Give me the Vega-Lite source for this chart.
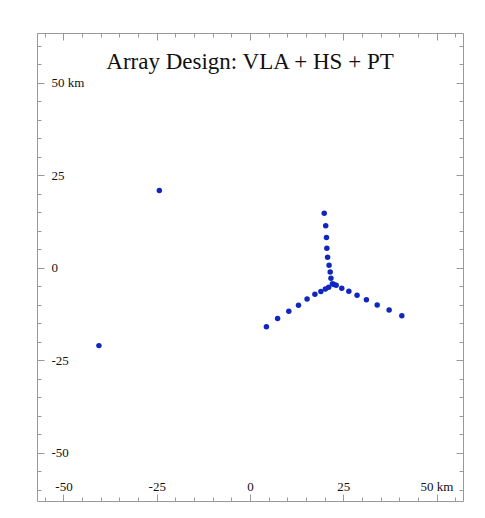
{
  "$schema": "https://vega.github.io/schema/vega-lite/v6.json",
  "width": 426,
  "height": 468,
  "autosize": {"type": "none"},
  "padding": {"left": 37, "top": 33, "right": 22, "bottom": 17},
  "background": "white",
  "title": {"text": "Array Design: VLA + HS + PT", "font": "Liberation Serif", "fontSize": 23, "fontWeight": "normal", "color": "#111111", "anchor": "middle", "frame": "group", "baseline": "alphabetic", "offset": -59},
  "config": {
    "view": {"stroke": null},
    "axis": {"grid": false, "domainColor": "#999999", "tickColor": "#999999", "labelFont": "Liberation Serif", "labelFontSize": 13, "labelColor": "#111111", "title": null, "labelFlush": false, "labelOverlap": false}
  },
  "data": {"values": [
    {"x": 19.9, "y": 14.8}, {"x": 20.3, "y": 11.4}, {"x": 20.5, "y": 8.2}, {"x": 20.6, "y": 5.3}, {"x": 20.8, "y": 2.9}, {"x": 21.2, "y": 0.7}, {"x": 21.5, "y": -1.1}, {"x": 21.7, "y": -2.8}, {"x": 22.1, "y": -4.3},
    {"x": 21.1, "y": -5.2}, {"x": 20.2, "y": -5.7}, {"x": 19.0, "y": -6.4}, {"x": 17.4, "y": -7.1}, {"x": 15.3, "y": -8.4}, {"x": 13.0, "y": -10.1}, {"x": 10.4, "y": -11.7}, {"x": 7.4, "y": -13.7}, {"x": 4.4, "y": -15.9},
    {"x": 22.5, "y": -4.5}, {"x": 23.1, "y": -4.7}, {"x": 24.6, "y": -5.5}, {"x": 26.5, "y": -6.3}, {"x": 28.7, "y": -7.4}, {"x": 31.2, "y": -8.6}, {"x": 34.1, "y": -10.0}, {"x": 37.3, "y": -11.4}, {"x": 40.7, "y": -12.9},
    {"x": -24.3, "y": 20.9}, {"x": -40.5, "y": -21.0}
  ]},
  "layer": [
    {
      "mark": {"type": "point", "filled": true, "shape": "circle", "size": 30, "color": "#1026c0", "opacity": 1},
      "encoding": {
        "x": {"field": "x", "type": "quantitative", "scale": {"domain": [-57.1, 57.1], "nice": false, "zero": false},
              "axis": {"orient": "bottom", "values": [-55, -50, -45, -40, -35, -30, -25, -20, -15, -10, -5, 0, 5, 10, 15, 20, 25, 30, 35, 40, 45, 50, 55], "labels": false, "tickSize": -4, "domain": true}},
        "y": {"field": "y", "type": "quantitative", "scale": {"domain": [-63, 63.5], "nice": false, "zero": false},
              "axis": {"orient": "left", "values": [-60, -55, -50, -45, -40, -35, -30, -25, -20, -15, -10, -5, 0, 5, 10, 15, 20, 25, 30, 35, 40, 45, 50, 55, 60], "labels": false, "tickSize": -4, "domain": true}}
      }
    },
    {
      "mark": {"type": "point", "opacity": 0},
      "encoding": {
        "x": {"field": "x", "type": "quantitative", "scale": {"domain": [-57.1, 57.1], "nice": false, "zero": false},
              "axis": {"orient": "bottom", "values": [-50, -25, 0, 25, 50], "tickSize": -7, "labelPadding": -8, "labelBaseline": "middle", "labelAlign": "center", "domain": false, "labelExpr": "datum.value == 50 ? '50 km' : '' + datum.value"}},
        "y": {"field": "y", "type": "quantitative", "scale": {"domain": [-63, 63.5], "nice": false, "zero": false},
              "axis": {"orient": "left", "values": [-50, -25, 0, 25, 50], "tickSize": -7, "labelPadding": -7, "labelBaseline": "middle", "labelAlign": "left", "domain": false, "labelExpr": "datum.value == 50 ? '50 km' : '' + datum.value"}}
      }
    },
    {
      "mark": {"type": "point", "opacity": 0},
      "encoding": {
        "x": {"field": "x", "type": "quantitative", "scale": {"domain": [-57.1, 57.1], "nice": false, "zero": false},
              "axis": {"orient": "top", "values": [-55, -50, -45, -40, -35, -30, -25, -20, -15, -10, -5, 0, 5, 10, 15, 20, 25, 30, 35, 40, 45, 50, 55], "labels": false, "tickSize": -4, "domain": true}},
        "y": {"field": "y", "type": "quantitative", "scale": {"domain": [-63, 63.5], "nice": false, "zero": false},
              "axis": {"orient": "right", "values": [-60, -55, -50, -45, -40, -35, -30, -25, -20, -15, -10, -5, 0, 5, 10, 15, 20, 25, 30, 35, 40, 45, 50, 55, 60], "labels": false, "tickSize": -4, "domain": true}}
      }
    },
    {
      "mark": {"type": "point", "opacity": 0},
      "encoding": {
        "x": {"field": "x", "type": "quantitative", "scale": {"domain": [-57.1, 57.1], "nice": false, "zero": false},
              "axis": {"orient": "top", "values": [-50, -25, 0, 25, 50], "labels": false, "tickSize": -7, "domain": false}},
        "y": {"field": "y", "type": "quantitative", "scale": {"domain": [-63, 63.5], "nice": false, "zero": false},
              "axis": {"orient": "right", "values": [-50, -25, 0, 25, 50], "labels": false, "tickSize": -7, "domain": false}}
      }
    }
  ],
  "resolve": {"axis": {"x": "independent", "y": "independent"}}
}
